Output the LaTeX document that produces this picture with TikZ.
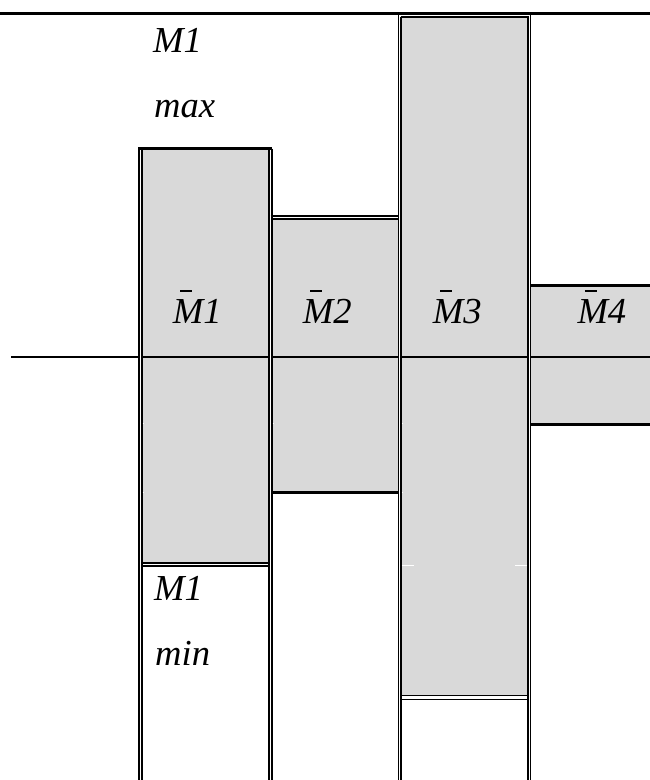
\documentclass[tikz,border=0pt]{standalone}
\usepackage{fontspec}
\setmainfont{Liberation Serif}
\definecolor{cellgrey}{RGB}{217,217,217}
\newcommand{\barM}{\makebox[0pt][l]{\hspace{7.3pt}\rule[31.3pt]{11.7pt}{2pt}}M}
\tikzset{
  thinrule/.style={line width=1.6pt},
  midrule/.style={line width=2pt},
  heavyrule/.style={line width=3pt},
  tickmark/.style={white, line width=1pt},
  lbl/.style={anchor=base west, inner sep=0pt, font=\fontsize{36.6}{40}\selectfont\itshape}
}
\begin{document}
\begin{tikzpicture}[x=1pt, y=-1pt]
\useasboundingbox (0,0) rectangle (650,780);
% grey cells
\fill[cellgrey] (141.7,148.7) rectangle (269,562.8);
\fill[cellgrey] (271.7,218.8) rectangle (398.3,492.3);
\fill[cellgrey] (401,16.7) rectangle (528,695.5);
\fill[cellgrey] (530.5,285.7) rectangle (650,424);
% axis line
\draw[midrule] (11,356.5) -- (139,356.5);
\draw[midrule] (141.7,356.5) -- (269,356.5);
\draw[midrule] (271.7,356.5) -- (398.3,356.5);
\draw[midrule] (401,356.5) -- (528,356.5);
\draw[midrule] (530.5,356.5) -- (650,356.5);
% top line
\draw[line width=2.4pt] (0,13.5) -- (650,13.5);
% vertical double rules
\draw[thinrule] (139,148.7) -- (139,780);
\draw[thinrule] (141.7,148.7) -- (141.7,780);
\draw[thinrule] (269,148.7) -- (269,780);
\draw[thinrule] (271.7,148.7) -- (271.7,780);
\draw[thinrule] (398.3,13.5) -- (398.3,780);
\draw[thinrule] (401,16.7) -- (401,780);
\draw[thinrule] (528,16.7) -- (528,780);
\draw[thinrule] (530.5,13.5) -- (530.5,780);
% horizontal rules
\draw[midrule] (400.5,16.7) -- (528.5,16.7);
\draw[heavyrule] (138.3,148.7) -- (272.3,148.7);
\draw[thinrule] (270.7,215.8) -- (399,215.8);
\draw[thinrule] (271.7,218.8) -- (398.3,218.8);
\draw[heavyrule] (530,285.7) -- (650,285.7);
\draw[heavyrule] (530,424) -- (650,424);
\draw[heavyrule] (271,492.3) -- (399,492.3);
\draw[thinrule] (141,562.8) -- (269.5,562.8);
\draw[thinrule] (141,566) -- (269.5,566);
\draw[thinrule] (401,695.5) -- (528,695.5);
\draw[thinrule] (401,699.3) -- (528,699.3);
% small white ticks
\draw[tickmark] (142.6,423.3) -- (144,423.3);
\draw[tickmark] (272.6,423.3) -- (274,423.3);
\draw[tickmark] (401.9,423.3) -- (403.3,423.3);
\draw[tickmark] (142.6,492.3) -- (144,492.3);
\draw[tickmark] (401.9,492.3) -- (403.3,492.3);
\draw[tickmark] (401.9,565.7) -- (414,565.7);
\draw[tickmark] (515,565.7) -- (527.1,565.7);
% labels
\node[lbl] (m1max) at (153,52) {M1};
\node[lbl] (max) at (154,117) {max};
\node[lbl] (m1min) at (154,600) {M1};
\node[lbl] (min) at (155,665) {min};
\node[lbl] (bm1) at (172.7,323.3) {\barM1};
\node[lbl] (bm2) at (302.7,323.3) {\barM2};
\node[lbl] (bm3) at (432.7,323.3) {\barM3};
\node[lbl] (bm4) at (577.3,323.3) {\barM4};
\end{tikzpicture}
\end{document}
